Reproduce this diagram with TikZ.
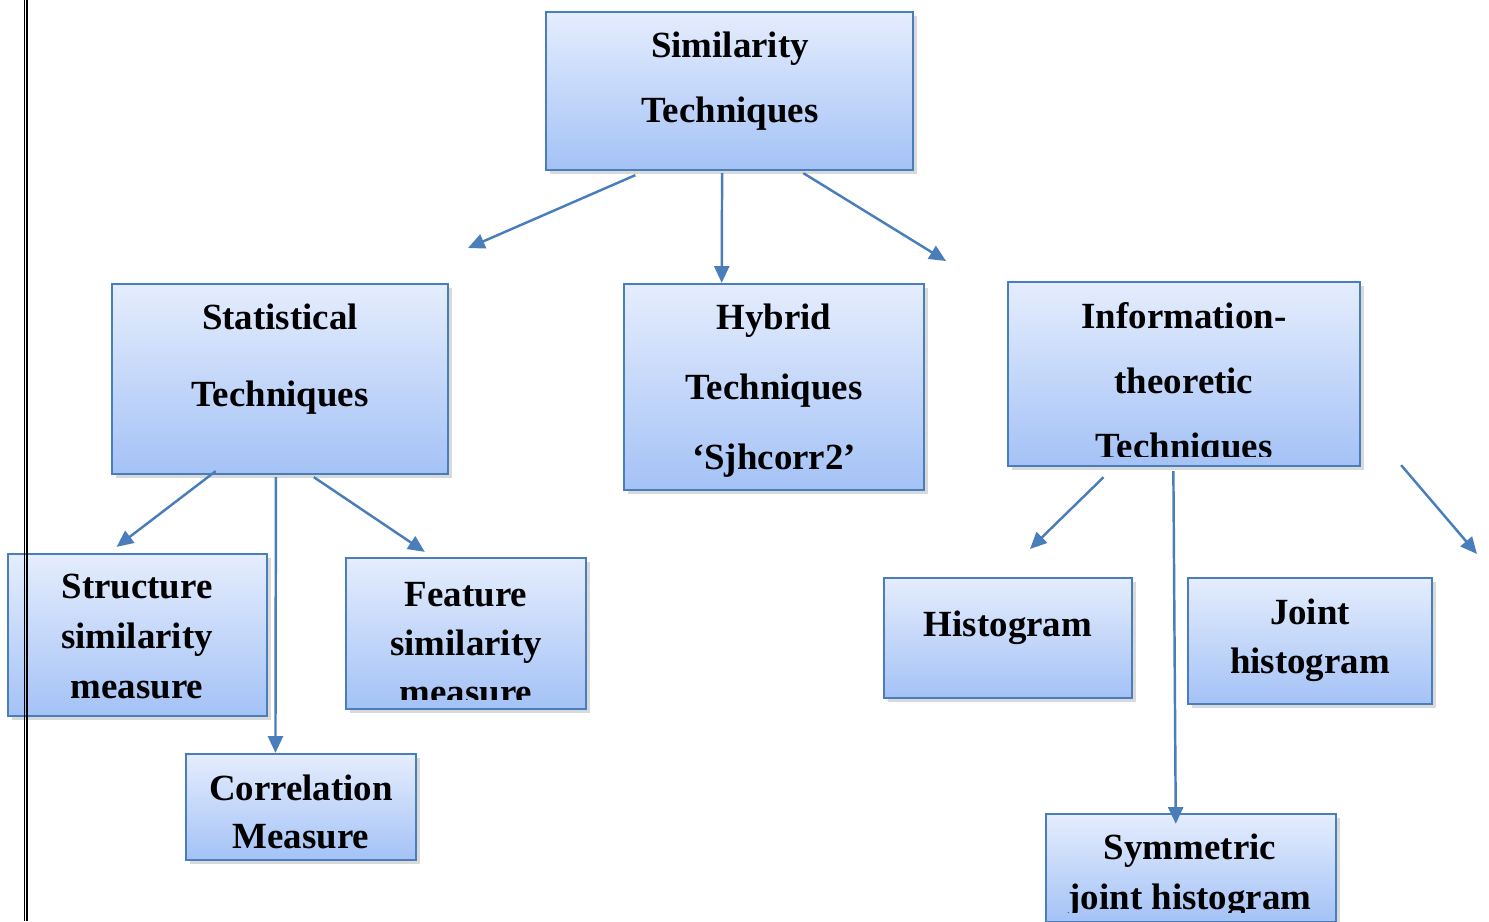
\documentclass[tikz,border=0pt]{standalone}
\usepackage{fontspec}
\setmainfont{Liberation Serif}
\usetikzlibrary{calc,fit,arrows.meta,shadows}

\definecolor{boxline}{RGB}{74,126,187}
\definecolor{boxtop}{RGB}{229,237,253}
\definecolor{boxbot}{RGB}{164,194,246}

\tikzset{
  box/.style={draw=boxline, line width=1.3pt, inner sep=0pt,
    top color=boxtop, bottom color=boxbot,
    drop shadow={opacity=0.3, shadow xshift=2pt, shadow yshift=-2pt}},
  boxlabel/.style={anchor=base, align=center, inner sep=0pt,
    font=\fontsize{21pt}{#1}\selectfont\bfseries},
  link/.style={draw=boxline, line width=1.4pt, -{Triangle[length=9.5pt,width=8.5pt]}}
}

% text of a box (placed at the baseline of its last line), cut off at the inner bottom margin
\newcommand{\techlabel}[4]{%
  \begin{scope}
    \clip ([yshift=0.22cm]#1.south west) rectangle (#1.north east);
    \node[boxlabel=#3] at #2 {#4};
  \end{scope}}

\begin{document}
\begin{tikzpicture}[x=0.02cm, y=-0.02cm]
  \useasboundingbox (0,0) rectangle (1489,921);
  % boxes
  \node[box, fit={(546,12) (913,170)}] (sim) {};
  \node[box, fit={(112,284) (448,474)}] (stat) {};
  \node[box, fit={(624,284) (924,490)}] (hyb) {};
  \node[box, fit={(1008,282) (1360,466)}] (info) {};
  \node[box, fit={(8,554) (267,716)}] (struct) {};
  \node[box, fit={(346,558) (586,709)}] (feat) {};
  \node[box, fit={(186,754) (416,860)}] (corr) {};
  \node[box, fit={(884,578) (1132,698)}] (hist) {};
  \node[box, fit={(1188,578) (1432,704)}] (joint) {};
  \node[box, fit={(1046,814) (1336,922)}] (sym) {};
  %
  \techlabel{sim}{(730,122)}{36.9pt}{Similarity\\Techniques}
  \techlabel{stat}{(280,406)}{43.6pt}{Statistical\\Techniques}
  \techlabel{hyb}{(774,469)}{39.7pt}{Hybrid\\Techniques\\‘Sjhcorr2’}
  \techlabel{info}{(1184,458)}{36.9pt}{Information-\\theoretic\\Techniques}
  \techlabel{struct}{(137,698)}{28.3pt}{Structure\\similarity\\measure}
  \techlabel{feat}{(466,704)}{27.8pt}{Feature\\similarity\\measure}
  \techlabel{corr}{(301,848)}{27.2pt}{Correlation\\Measure}
  \techlabel{hist}{(1008,636)}{27.8pt}{Histogram}
  \techlabel{joint}{(1310,673)}{27.8pt}{Joint\\histogram}
  \techlabel{sym}{(1190,909)}{28.3pt}{Symmetric\\joint histogram}
  % free arrow ends
  \coordinate (simL) at (468,248);
  \coordinate (simR) at (946,261);
  \coordinate (histEnd) at (1030,549);
  \coordinate (infoR) at (1477,554);
  %
  \draw[link] ($(sim.south west)!0.245!(sim.south east)+(0,4)$) -- (simL);
  \draw[link] ($(sim.south west)!0.48!(sim.south east)+(0,2)$) -- ($(hyb.north west)!0.327!(hyb.north east)$);
  \draw[link] ($(sim.south west)!0.70!(sim.south east)+(0,2)$) -- (simR);
  %
  \draw[link] ($(stat.south west)!0.31!(stat.south east)+(0,-4)$) -- ($(struct.north west)!0.42!(struct.north east)+(0,-6)$);
  \draw[link] ($(stat.south west)!0.488!(stat.south east)+(0,2)$) -- ($(corr.north west)!0.39!(corr.north east)$);
  \draw[link] ($(stat.south west)!0.60!(stat.south east)+(0,2)$) -- ($(feat.north west)!0.33!(feat.north east)+(0,-5)$);
  %
  \draw[link] ($(info.south west)!0.273!(info.south east)+(0,10)$) -- (histEnd);
  \draw[link] ($(info.south west)!0.47!(info.south east)+(0,4)$) -- ($(sym.north west)!0.448!(sym.north east)+(0,11)$);
  \draw[link] ($(info.south east)+(40,-2)$) -- (infoR);
  % page margin rule
  \draw[line width=0.6pt] (24.5,0) -- (24.5,921);
  \draw[line width=0.6pt] (27,0) -- (27,921);
\end{tikzpicture}
\end{document}
